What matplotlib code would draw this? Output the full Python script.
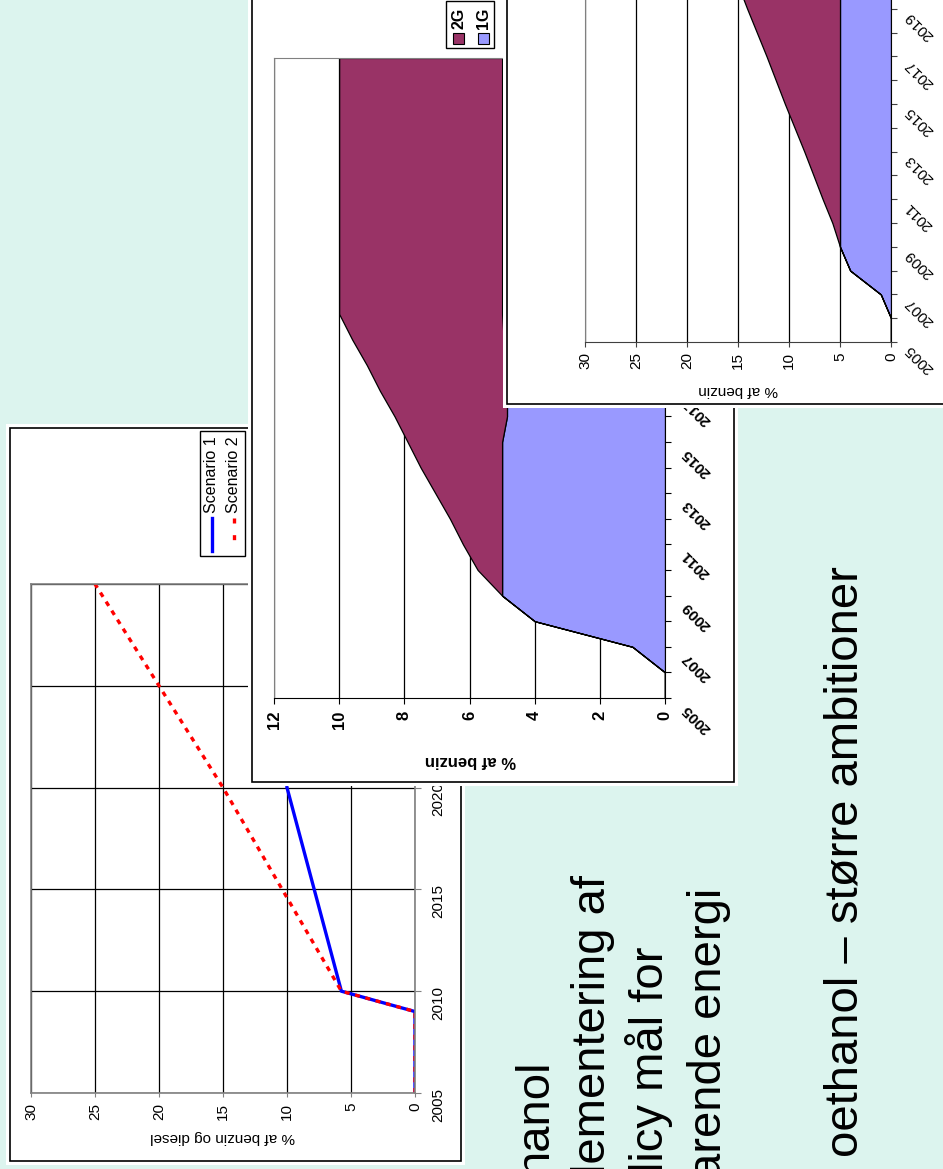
import matplotlib
matplotlib.use('Agg')
import matplotlib.pyplot as plt
from matplotlib.patches import Rectangle
from matplotlib.lines import Line2D
from matplotlib.transforms import offset_copy

plt.rcParams['font.family'] = ['Liberation Sans', 'DejaVu Sans']

W, H = 943, 1169
MINT = '#dcf4ee'
PURPLE = '#993366'
LILAC = '#9999ff'

# scenario curves, % af benzin og diesel
scen1_years = [2005, 2009, 2010, 2020]
scen1_pct = [0, 0, 5.75, 10]
scen2_years = [2005, 2009, 2010, 2020, 2030]
scen2_pct = [0, 0, 5.75, 15, 25]

years = list(range(2005, 2031))

# stacked areas, % af benzin (moderate case)
mid_1g = [0, 0, 1, 4, 5, 5, 5, 5, 5, 5, 5, 4.85, 4.85, 4.9, 4.95,
          5, 5, 5, 5, 5, 5, 5, 5, 5, 5, 5]
mid_2g = [0, 0, 0, 0, 0, 0.75, 1.2, 1.6, 2.05, 2.5, 2.9, 3.45, 3.9, 4.25, 4.65,
          5, 5, 5, 5, 5, 5, 5, 5, 5, 5, 5]

# stacked areas, % af benzin (high case)
right_1g = [0, 0, 1, 4, 5, 5, 5, 5, 5, 5, 5, 5, 5, 5, 5,
            5, 5, 5, 5, 5, 5, 5, 5, 5, 5, 5]
right_2g = [0, 0, 0, 0, 0, 0.75, 1.7, 2.6, 3.5, 4.45, 5.4, 6.3, 7.2, 8.15, 9.1,
            10, 11, 12, 13, 14, 15, 16, 17, 18, 19, 20]

fig = plt.figure(figsize=(W / 100, H / 100), dpi=100)
fig.patch.set_facecolor(MINT)


def frac(x0, y0, x1, y1):
    return [x0 / W, 1 - y1 / H, (x1 - x0) / W, (y1 - y0) / H]


def pixel_axes():
    pa = fig.add_axes([0, 0, 1, 1])
    pa.set_xlim(0, W)
    pa.set_ylim(H, 0)
    pa.axis('off')
    return pa


def panel(x0, y0, x1, y1, inset=4):
    pa = pixel_axes()
    pa.add_patch(Rectangle((x0, y0), x1 - x0, y1 - y0, fc='white', ec='none'))
    pa.add_patch(Rectangle((x0 + inset, y0 + inset), x1 - x0 - 2 * inset,
                           y1 - y0 - 2 * inset, fc='none', ec='black', lw=1.2))
    return pa


def year_labels(ax, labs, dx, dy, **kw):
    tr = offset_copy(ax.get_yaxis_transform(), fig=fig, x=dx, y=dy, units='points')
    for yr in labs:
        ax.text(1, yr, str(yr), transform=tr, rotation=135, rotation_mode='anchor',
                ha='right', va='center', clip_on=False, **kw)


# slide text
bg = pixel_axes()
big = dict(rotation=90, rotation_mode='anchor', ha='right', va='baseline',
           fontsize=34, color='black')
bg.text(857, 566, 'oethanol – større ambitioner', **big)
bg.text(547, 1059, 'hanol', **big)
bg.text(605, 875, 'lementering af', **big)
bg.text(663, 947, 'licy mål for', **big)
bg.text(721, 888, 'arende energi', **big)

# ---- scenario chart
p1 = panel(6, 424, 465, 1165)
ax1 = fig.add_axes(frac(31, 584, 415, 1093))
ax1.set_xlim(30, 0)
ax1.set_ylim(2005, 2030)
ax1.set_xticks(range(0, 31, 5))
ax1.set_yticks(range(2005, 2031, 5))
ax1.grid(True, color='black', lw=0.9)
ax1.yaxis.tick_right()
ax1.tick_params(axis='y', direction='out', length=4.5, pad=7, labelsize=11,
                labelrotation=90, color='#808080')
ax1.tick_params(axis='x', direction='out', length=3, pad=4, labelsize=11,
                labelrotation=90, color='#808080')
for s in ax1.spines.values():
    s.set_color('#808080')
    s.set_linewidth(1.2)
ax1.plot(scen1_pct, scen1_years, color='#0000ff', lw=2.4)
ax1.plot(scen2_pct, scen2_years, color='#ff0000', lw=2.4, ls=(0, (1.5, 1.7)))
p1.text(223, 1137, '% af benzin og diesel', rotation=180, ha='center', va='center',
        fontsize=11)
p1.add_patch(Rectangle((200, 431), 45, 125, fc='white', ec='black', lw=1))
p1.add_line(Line2D([212, 212], [518, 551], color='#0000ff', lw=2.4))
p1.add_line(Line2D([234, 234], [518, 551], color='#ff0000', lw=2.4, ls=(0, (1.5, 3.5))))
p1.text(212, 513, 'Scenario 1', rotation=90, rotation_mode='anchor', ha='left',
        va='center', fontsize=11.5)
p1.text(234, 513, 'Scenario 2', rotation=90, rotation_mode='anchor', ha='left',
        va='center', fontsize=11.5)

# ---- moderate 1G/2G chart
p2 = panel(248, -10, 738, 786)
ax2 = fig.add_axes(frac(274, 58, 665, 698))
ax2.set_xlim(12, 0)
ax2.set_ylim(2005, 2030)
mid_top = [a + b for a, b in zip(mid_1g, mid_2g)]
ax2.fill_betweenx(years, 0, mid_1g, fc=LILAC, ec='black', lw=0.9)
ax2.fill_betweenx(years, mid_1g, mid_top, fc=PURPLE, ec='black', lw=0.9)
ax2.set_axisbelow(True)
ax2.set_xticks(range(0, 13, 2))
ax2.set_yticks(years)
ax2.set_yticklabels([])
ax2.grid(axis='x', color='black', lw=0.9)
ax2.yaxis.tick_right()
ax2.tick_params(axis='y', direction='out', length=4.5)
ax2.tick_params(axis='x', direction='out', length=4, pad=5, labelsize=12,
                labelrotation=90)
for lab in ax2.get_xticklabels():
    lab.set_fontweight('bold')
ax2.spines['top'].set_color('#808080')
ax2.spines['left'].set_color('#808080')
year_labels(ax2, years[::2], 14, -6, fontsize=11, fontweight='bold')
p2.text(470, 760, '% af benzin', rotation=180, ha='center', va='center',
        fontsize=12, fontweight='bold')
p2.add_patch(Rectangle((446, 1), 48, 47, fc='white', ec='black', lw=1))
for x, c, name in [(458.5, PURPLE, '2G'), (483.5, LILAC, '1G')]:
    p2.add_patch(Rectangle((x - 5.5, 32.5), 11, 11, fc=c, ec='black', lw=0.8))
    p2.text(x, 29, name, rotation=90, rotation_mode='anchor', ha='left', va='center',
            fontsize=11.5, fontweight='bold')

# ---- high 1G/2G chart
p3 = panel(503, -10, 960, 408)
ax3 = fig.add_axes(frac(585, 342 - 25 * 23.8, 891, 342))
ax3.set_xlim(30, 0)
ax3.set_ylim(2005, 2030)
right_top = [a + b for a, b in zip(right_1g, right_2g)]
ax3.fill_betweenx(years, 0, right_1g, fc=LILAC, ec='black', lw=0.9)
ax3.fill_betweenx(years, right_1g, right_top, fc=PURPLE, ec='black', lw=0.9)
ax3.set_axisbelow(True)
ax3.set_xticks(range(0, 31, 5))
ax3.set_yticks(years)
ax3.set_yticklabels([])
ax3.grid(axis='x', color='black', lw=0.9)
ax3.yaxis.tick_right()
ax3.tick_params(axis='y', direction='out', length=4, color='#404040')
ax3.tick_params(axis='x', direction='out', length=3.5, pad=4, labelsize=11,
                labelrotation=90, color='#404040')
ax3.spines['left'].set_color('#808080')
ax3.spines['bottom'].set_color('#404040')
year_labels(ax3, years[::2], 11.5, -3.6, fontsize=11)
p3.text(738, 390, '% af benzin', rotation=180, ha='center', va='center', fontsize=11)

fig.savefig('out.png', dpi=100, facecolor=MINT)
